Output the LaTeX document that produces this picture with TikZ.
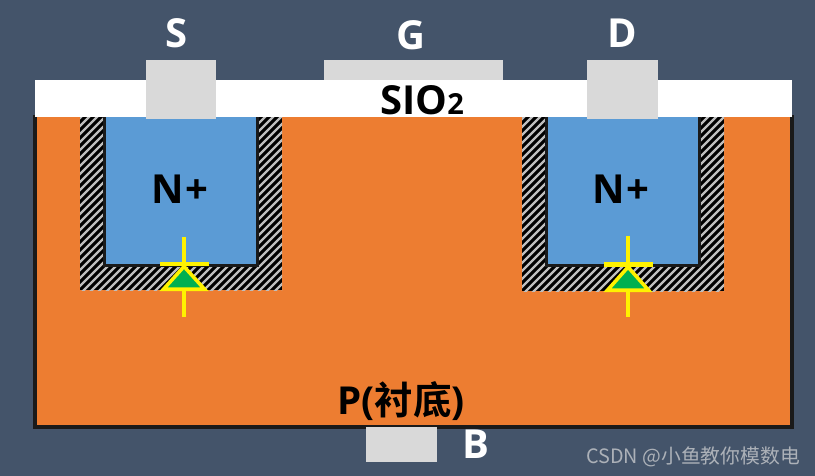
\documentclass[tikz,border=0pt]{standalone}
\usepackage{xcolor}
\usepackage{fontspec}
\setmainfont{Open Sans}
\newfontfamily\cjkbold[BoldFont={Noto Sans CJK SC Bold}]{Noto Sans CJK SC}
\newfontfamily\cjkplain{Noto Sans CJK SC}
\definecolor{slatebg}{RGB}{68,84,106}
\definecolor{subsorange}{RGB}{237,125,49}
\definecolor{nblue}{RGB}{91,155,213}
\definecolor{metalgray}{RGB}{217,217,217}
\definecolor{hatchgray}{RGB}{190,190,190}
\definecolor{edgeblack}{RGB}{26,26,26}
\definecolor{diodegreen}{RGB}{0,176,80}
\definecolor{markgray}{RGB}{172,177,184}
\tikzset{
  metal/.style  ={fill=metalgray},
  subs/.style   ={draw=edgeblack, fill=subsorange, line width=4pt},
  nwell/.style  ={draw=edgeblack, fill=nblue, line width=3pt},
  hatchln/.style={draw=hatchgray, line width=2.2pt},
  dline/.style  ={draw=yellow, line width=4.2pt},
  dtri/.style   ={draw=yellow, fill=diodegreen, line width=3.6pt, miter limit=10},
  pin/.style    ={anchor=base, text=white, font=\fontsize{40}{42}\selectfont\bfseries},
  lbl/.style    ={anchor=base, text=black, font=\fontsize{40}{42}\selectfont\bfseries},
}
\begin{document}
\begin{tikzpicture}[x=1pt,y=-1pt]
\fill[slatebg] (0,0) rectangle (815,476);
\draw[subs] (35,115) -- (35,427) -- (792,427) -- (792,115);
% the two wells: hatch, n+ region, diode
\foreach \hl/\hr/\hb/\bl/\br/\bb/\dx/\dt in {80/282/290/104/257/265.5/184/237, 522/724/291/546.5/699/266/628/236}{
  \begin{scope}
    \clip (\hl,117) rectangle (\hr,\hb);
    \fill[black] (\hl,117) rectangle (\hr,\hb);
    \foreach \hs in {0,8,...,400}{
      \draw[hatchln] (\hl-190+\hs,\hb+10) -- (\hl-190+\hs+200,\hb-190);
    }
  \end{scope}
  \draw[nwell] (\bl,110) rectangle (\br,\bb);
  \draw[dline] (\dx,\dt) -- (\dx,317);
  \draw[dline] (\dx-24.5,\bb-1.5) -- (\dx+24.5,\bb-1.5);
  \draw[dtri] (\dx,\bb+1) -- (\dx+20.5,\hb-0.8) -- (\dx-20.5,\hb-0.8) -- cycle;
}
\fill[white] (35,80) rectangle (792,117);
\fill[metal] (146,60) rectangle (216,119);
\fill[metal] (324,60) rectangle (503,80);
\fill[metal] (587,60) rectangle (658,119);
\fill[metal] (366,427) rectangle (437,462);
\node[pin] (s) at (177,48) {S};
\node[pin] (g) at (411,50) {G};
\node[pin] (d) at (622,48) {D};
\node[pin] (b) at (476,458) {B};
\node[lbl] (oxide) at (422,115) {SIO{\fontsize{29}{30}\selectfont 2}};
\node[lbl] (nleft) at (180,204) {N\kern2pt+};
\node[lbl] (nright) at (621,204) {N\kern2pt+};
\node[lbl, font=\fontsize{38.5}{42}\selectfont\bfseries] (bulk) at (401,414) {P(\cjkbold 衬底\normalfont\bfseries)};
\node[anchor=base, text=markgray, font=\fontsize{19.8}{22}\selectfont\cjkplain] (mark) at (693,463) {CSDN @小鱼教你模数电};
\end{tikzpicture}
\end{document}
